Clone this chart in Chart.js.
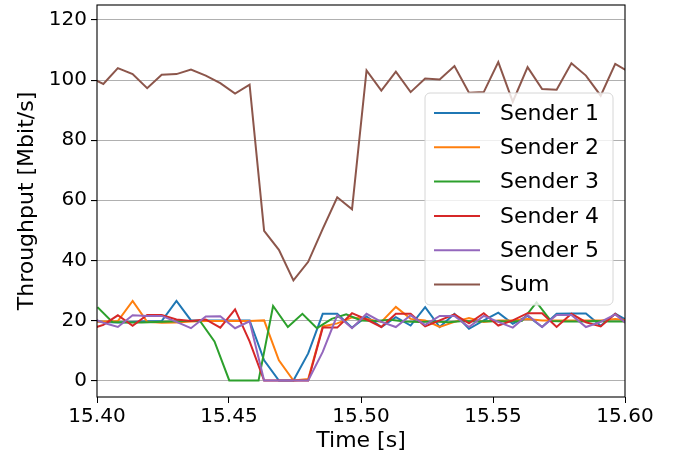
<!DOCTYPE html>
<html>
<head>
<meta charset="utf-8">
<script src="https://cdn.jsdelivr.net/npm/chart.js@4"></script>
<style>
  html, body { margin: 0; padding: 0; background: #fff; }
  #wrap { width: 681px; height: 462px; }
</style>
</head>
<body>
<div id="wrap"><canvas id="chart" width="681" height="462"></canvas></div>
<script>
// sample times (s) shared by the sum and most senders
const times = [15.3970, 15.4024, 15.4079, 15.4135, 15.4190, 15.4245, 15.4301, 15.4356, 15.4412, 15.4467,
  15.4523, 15.4578, 15.4633, 15.4689, 15.4744, 15.4800, 15.4855, 15.4910, 15.4966, 15.5021,
  15.5077, 15.5132, 15.5188, 15.5243, 15.5298, 15.5354, 15.5409, 15.5465, 15.5520, 15.5575,
  15.5631, 15.5686, 15.5741, 15.5797, 15.5852, 15.5908, 15.5963, 15.6019];
// sender 3 is sampled half a step later
const times3 = [15.4002, 15.4058, 15.4113, 15.4169, 15.4224, 15.4280, 15.4335, 15.4390, 15.4445, 15.4501,
  15.4556, 15.4612, 15.4667, 15.4723, 15.4778, 15.4833, 15.4889, 15.4944, 15.5000, 15.5055,
  15.5111, 15.5166, 15.5222, 15.5277, 15.5332, 15.5388, 15.5443, 15.5498, 15.5554, 15.5609,
  15.5665, 15.5720, 15.5775, 15.5831, 15.5886, 15.5942, 15.5997, 15.6052];

const sender1 = [20, 19.5, 19.3, 19.5, 19.7, 19.8, 26.5, 20, 20, 20,
  20, 20, 6.7, 0, 0, 9, 22.2, 22.2, 17.6, 21.3,
  17.8, 21.1, 18.3, 24.4, 17.8, 22.2, 17.2, 20, 22.6, 18.9,
  21.5, 17.8, 22.2, 22.3, 22.3, 18.2, 22.2, 19.5];
const sender2 = [19.5, 19.6, 19.8, 26.5, 19.5, 19.2, 19.3, 19.6, 19.8, 19.8,
  19.8, 19.8, 20, 6.7, 0, 0.5, 18, 19, 21, 20.5,
  19.5, 24.5, 20.5, 20, 17.8, 19.5, 20.8, 19.5, 20, 20,
  20.5, 20, 20, 20, 20, 20, 20.5, 20];
const sender3 = [24.4, 19.5, 19.3, 19.3, 19.5, 19.6, 19.8, 19.8, 13, 0,
  0, 0, 24.8, 17.8, 22.2, 17.4, 20.5, 22, 20, 19.8,
  20.2, 19.6, 19.5, 19.6, 19.4, 19.8, 19.6, 19.8, 19.6, 19.8,
  26, 19.8, 19.6, 19.6, 19.8, 19.6, 19.6, 19.8];
const sender4 = [17, 18.5, 21.7, 18.2, 21.8, 21.8, 20.3, 19.8, 20.3, 17.6,
  23.7, 13, 0, 0, 0, 0, 17.6, 17.6, 22.4, 20.3,
  17.8, 22.2, 22.2, 18, 20, 22, 19, 22.4, 18.3, 20,
  22.4, 22.4, 17.8, 22.2, 19.4, 18, 22.2, 18];
const sender5 = [21, 19.2, 17.8, 21.7, 21.5, 21.5, 19.5, 17.4, 21.3, 21.4,
  17.4, 19.7, 0, 0, 0, 0, 9.5, 21.7, 17.4, 22.2,
  19.5, 17.8, 21.7, 18.5, 21.5, 21.5, 17.8, 21.5, 19.5, 17.6,
  21.8, 17.8, 21.8, 21.8, 17.8, 19.5, 22, 18];
const sum = [101, 98.7, 104, 102, 97.3, 101.8, 102, 103.5, 101.5, 99,
  95.5, 98.5, 49.8, 43.5, 33.3, 39.5, 50.5, 61, 57, 103.2,
  96.5, 102.8, 96, 100.5, 100.2, 104.7, 95.8, 96, 106, 92.8,
  104.3, 97, 96.8, 105.6, 101.5, 94.8, 105.4, 102.5];

const xTicks = [15.40, 15.45, 15.50, 15.55, 15.60];
const yTicks = [0, 20, 40, 60, 80, 100, 120];

const FONT = 'DejaVu Sans';

function pts(xs, ys) {
  return xs.map((x, i) => ({ x, y: ys[i] }));
}

const series = [
  { label: 'Sender 1', t: times,  v: sender1, color: '#1f77b4' },
  { label: 'Sender 2', t: times,  v: sender2, color: '#ff7f0e' },
  { label: 'Sender 3', t: times3, v: sender3, color: '#2ca02c' },
  { label: 'Sender 4', t: times,  v: sender4, color: '#d62728' },
  { label: 'Sender 5', t: times,  v: sender5, color: '#9467bd' },
  { label: 'Sum',      t: times,  v: sum,     color: '#8c564b' },
];

// frame round the plot area, like matplotlib spines
const framePlugin = {
  id: 'frame',
  afterDatasetsDraw(chart) {
    const { ctx, chartArea: a } = chart;
    ctx.save();
    ctx.strokeStyle = '#000';
    ctx.lineWidth = 1.1;
    ctx.strokeRect(a.left, a.top, a.right - a.left, a.bottom - a.top);
    ctx.restore();
  }
};

// legend box inside the axes (upper right, matplotlib style)
const legendPlugin = {
  id: 'mplLegend',
  afterDatasetsDraw(chart) {
    const ctx = chart.ctx;
    const x0 = 425, y0 = 93, w = 188, h = 212, r = 5;
    ctx.save();
    ctx.beginPath();
    ctx.moveTo(x0 + r, y0);
    ctx.arcTo(x0 + w, y0, x0 + w, y0 + h, r);
    ctx.arcTo(x0 + w, y0 + h, x0, y0 + h, r);
    ctx.arcTo(x0, y0 + h, x0, y0, r);
    ctx.arcTo(x0, y0, x0 + w, y0, r);
    ctx.closePath();
    ctx.fillStyle = 'rgba(255,255,255,0.8)';
    ctx.fill();
    ctx.strokeStyle = '#d6d6d6';
    ctx.lineWidth = 1;
    ctx.stroke();
    ctx.font = `22px "${FONT}"`;
    ctx.textBaseline = 'middle';
    ctx.fillStyle = '#000';
    chart.data.datasets.forEach((ds, i) => {
      const yy = y0 + 20 + i * 34.3;
      ctx.strokeStyle = ds.borderColor;
      ctx.lineWidth = 2;
      ctx.beginPath();
      ctx.moveTo(434, yy);
      ctx.lineTo(480, yy);
      ctx.stroke();
      ctx.fillText(ds.label, 500, yy + 1);
    });
    ctx.restore();
  }
};

new Chart(document.getElementById('chart'), {
  type: 'line',
  data: {
    datasets: series.map((s, i) => ({
      label: s.label,
      data: pts(s.t, s.v),
      borderColor: s.color,
      backgroundColor: s.color,
      borderWidth: 2,
      pointRadius: 0,
      tension: 0,
      order: series.length - i,
    })),
  },
  options: {
    responsive: false,
    animation: false,
    layout: { padding: { top: 5, right: 56, left: 0, bottom: 0 } },
    plugins: { legend: { display: false }, tooltip: { enabled: false } },
    scales: {
      x: {
        type: 'linear',
        min: 15.40,
        max: 15.60,
        afterBuildTicks: s => { s.ticks = xTicks.map(v => ({ value: v })); },
        afterFit: s => { s.height = 65; s.paddingLeft = 0; s.paddingRight = 0; },
        ticks: {
          color: '#000',
          font: { family: FONT, size: 20 },
          padding: 2,
          maxRotation: 0,
          callback: v => v.toFixed(2),
        },
        grid: { drawOnChartArea: false, drawTicks: true, tickLength: 6, tickColor: '#000' },
        border: { display: false },
        title: {
          display: true,
          text: 'Time [s]',
          color: '#000',
          font: { family: FONT, size: 22 },
          padding: { top: 0, bottom: 8 },
        },
      },
      y: {
        min: -5.5,
        max: 125,
        afterBuildTicks: s => { s.ticks = yTicks.map(v => ({ value: v })); },
        afterFit: s => { s.width = 97; s.paddingTop = 0; s.paddingBottom = 0; },
        ticks: {
          color: '#000',
          font: { family: FONT, size: 20 },
          padding: 4,
        },
        grid: { color: '#b0b0b0', lineWidth: 1.1, drawTicks: true, tickLength: 6, tickColor: '#000' },
        border: { display: false },
        title: {
          display: true,
          text: 'Throughput [Mbit/s]',
          color: '#000',
          font: { family: FONT, size: 22 },
          padding: { top: 14, bottom: 0 },
        },
      },
    },
  },
  plugins: [framePlugin, legendPlugin],
});
</script>
</body>
</html>
